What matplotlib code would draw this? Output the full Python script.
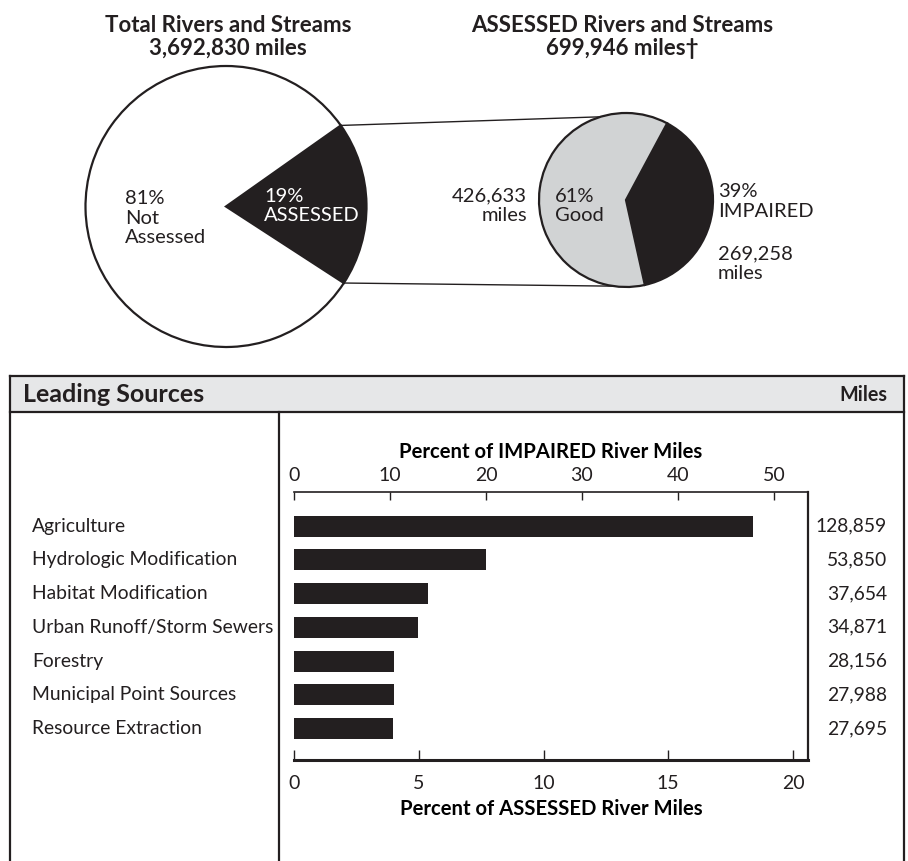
import numpy as np
import matplotlib
matplotlib.use("Agg")
import matplotlib.pyplot as plt
from matplotlib import transforms

# river mileage summary
total_miles = 3692830
assessed_miles = 699946
good_miles = 426633
impaired_miles = 269258

# leading sources of impairment
sources = ["Agriculture", "Hydrologic Modification", "Habitat Modification",
           "Urban Runoff/Storm Sewers", "Forestry", "Municipal Point Sources",
           "Resource Extraction"]
source_miles = [128859, 53850, 37654, 34871, 28156, 27988, 27695]

assessed_ticks = [0, 5, 10, 15, 20]
impaired_ticks = [0, 10, 20, 30, 40, 50]

DARK = "#231f20"
LIGHT = "#d1d3d4"
HEADER = "#e6e7e8"
W, H = 908, 861

plt.rcParams["font.family"] = ["Lato", "DejaVu Sans"]
plt.rcParams["text.color"] = DARK

fig = plt.figure(figsize=(W / 100, H / 100), dpi=100)

# overlay in pixel units (y measured from the top via Y())
ov = fig.add_axes([0, 0, 1, 1])
ov.patch.set_visible(False)


def Y(y):
    return H - y


def comma(n):
    return f"{n:,}"


# --- pies ---
big_c, big_r = (226, Y(206.5)), 140.5
small_c, small_r = (626, Y(200)), 87

big, _ = ov.pie([assessed_miles, total_miles - assessed_miles],
                colors=[DARK, "white"], startangle=-33, counterclock=True,
                center=big_c, radius=big_r, frame=True,
                wedgeprops=dict(edgecolor=DARK, linewidth=1.6))
small, _ = ov.pie([impaired_miles, good_miles],
                  colors=[DARK, LIGHT], startangle=-77.5, counterclock=True,
                  center=small_c, radius=small_r, frame=True,
                  wedgeprops=dict(edgecolor=DARK, linewidth=1.6))

ov.set_xlim(0, W)
ov.set_ylim(0, H)
ov.set_aspect("auto")
ov.axis("off")

# connectors from the assessed wedge to the second pie
t1, t2 = np.radians(big[0].theta1), np.radians(big[0].theta2)
for tb, ts in [(t2, np.radians(107)), (t1, np.radians(-98))]:
    ov.plot([big_c[0] + big_r * np.cos(tb), small_c[0] + small_r * np.cos(ts)],
            [big_c[1] + big_r * np.sin(tb), small_c[1] + small_r * np.sin(ts)],
            color=DARK, lw=1.0, zorder=0)

assessed_pct = round(100 * assessed_miles / total_miles)
impaired_pct = round(100 * impaired_miles / (impaired_miles + good_miles))

fs = 14.5
ov.text(228, Y(37), f"Total Rivers and Streams\n{comma(total_miles)} miles",
        ha="center", va="center", fontsize=16, fontweight="bold", linespacing=1.08)
ov.text(622, Y(37), f"ASSESSED Rivers and Streams\n{comma(assessed_miles)} miles\u2020",
        ha="center", va="center", fontsize=16, fontweight="bold", linespacing=1.08)

ov.text(125, Y(218), f"{100 - assessed_pct}%\nNot\nAssessed", ha="left",
        va="center", fontsize=fs, linespacing=1.2)
ov.text(264, Y(206), f"{assessed_pct}%\nASSESSED", ha="left", va="center",
        fontsize=fs, linespacing=1.2, color="white")
ov.text(527, Y(206), f"{comma(good_miles)}\nmiles", ha="right", va="center",
        fontsize=fs, linespacing=1.2, multialignment="right")
ov.text(555, Y(206), f"{100 - impaired_pct}%\nGood", ha="left", va="center",
        fontsize=fs, linespacing=1.2)
ov.text(718, Y(201.5), f"{impaired_pct}%\nIMPAIRED", ha="left", va="center",
        fontsize=fs, linespacing=1.15)
ov.text(718, Y(264), f"{comma(impaired_miles)}\nmiles", ha="left", va="center",
        fontsize=fs, linespacing=1.2)

# --- leading sources panel frame ---
ov.fill_between([10, 904], Y(376), Y(412), color=HEADER, lw=0, zorder=0)
frame_kw = dict(color=DARK, lw=1.6, solid_capstyle="projecting")
ov.plot([10, 904], [Y(376), Y(376)], **frame_kw)
ov.plot([10, 904], [Y(412), Y(412)], **frame_kw)
ov.plot([10, 10], [Y(376), 0], **frame_kw)
ov.plot([904, 904], [Y(376), 0], **frame_kw)
ov.plot([279, 279], [Y(412), 0], **frame_kw)
ov.text(23, Y(395), "Leading Sources", ha="left", va="center",
        fontsize=18, fontweight="bold")
ov.text(887, Y(395), "Miles", ha="right", va="center",
        fontsize=14.2, fontweight="bold")

# --- bar chart ---
ax = fig.add_axes([294 / W, Y(760) / H, (808 - 294) / W, (760 - 492) / H])
pct_assessed = [100 * m / assessed_miles for m in source_miles]
ypos = np.arange(len(sources))
ax.barh(ypos, pct_assessed, height=0.62, color=DARK, align="center")
ax.set_ylim(6.93, -1.01)
ax.set_xlim(0, 20.6)
ax.set_yticks([])
ax.set_xticks(assessed_ticks)
ax.tick_params(axis="x", direction="in", length=7.5, width=1.0, pad=11,
               labelsize=14, colors=DARK)
ax.spines["left"].set_visible(False)
ax.spines["top"].set_linewidth(1.2)
ax.spines["right"].set_linewidth(1.6)
ax.spines["bottom"].set_linewidth(2.2)
for s in ax.spines.values():
    s.set_color(DARK)
ax.set_xlabel("Percent of ASSESSED River Miles", fontsize=14.6,
              fontweight="bold", labelpad=5)

ratio = assessed_miles / impaired_miles
top = ax.secondary_xaxis("top", functions=(lambda v: v * ratio, lambda v: v / ratio))
top.set_xticks(impaired_ticks)
top.tick_params(axis="x", direction="in", length=6, width=1.0, pad=6,
                labelsize=14, colors=DARK)
top.spines["top"].set_visible(False)
top.set_xlabel("Percent of IMPAIRED River Miles", fontsize=14.6,
               fontweight="bold", labelpad=6)

row = transforms.blended_transform_factory(fig.transFigure, ax.transData)
for y, name, miles in zip(ypos, sources, source_miles):
    ax.text(32 / W, y, name, transform=row, ha="left", va="center", fontsize=13.9)
    ax.text(887 / W, y, comma(miles), transform=row, ha="right", va="center",
            fontsize=13.9)

fig.savefig("out.png", dpi=100)
